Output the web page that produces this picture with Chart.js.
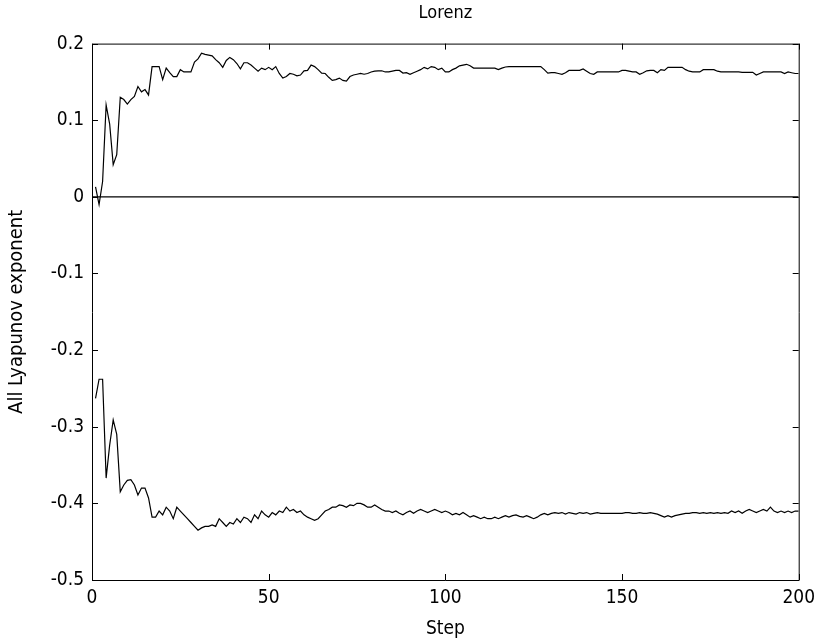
<!DOCTYPE html>
<html>
<head>
<meta charset="utf-8">
<script src="https://cdn.jsdelivr.net/npm/chart.js@4/dist/chart.umd.min.js"></script>
<style>
  html, body { margin:0; padding:0; background:#fff; }
  #wrap { width:822px; height:643px; }
</style>
</head>
<body>
<div id="wrap"><canvas id="chart" width="822" height="643"></canvas></div>
<script>
// step values 1..200
const upperExp = [
  0.013,-0.010,0.020,0.120,0.095,0.042,0.055,0.130,0.127,0.121,
  0.127,0.131,0.144,0.137,0.140,0.133,0.170,0.170,0.170,0.153,
  0.168,0.162,0.157,0.157,0.166,0.163,0.163,0.163,0.176,0.180,
  0.1875,0.186,0.185,0.184,0.179,0.175,0.169,0.178,0.182,0.179,
  0.174,0.167,0.175,0.175,0.172,0.168,0.164,0.168,0.166,0.169,
  0.166,0.170,0.161,0.155,0.157,0.161,0.160,0.158,0.159,0.1645,
  0.165,0.172,0.170,0.166,0.1615,0.161,0.156,0.152,0.153,0.155,
  0.152,0.151,0.157,0.159,0.160,0.161,0.160,0.161,0.163,0.164,
  0.1645,0.1645,0.163,0.163,0.164,0.165,0.165,0.1615,0.162,0.160,
  0.162,0.164,0.166,0.169,0.167,0.170,0.169,0.166,0.168,0.163,
  0.163,0.166,0.168,0.171,0.172,0.173,0.171,0.168,0.168,0.168,
  0.168,0.168,0.168,0.168,0.166,0.168,0.1695,0.170,0.170,0.170,
  0.170,0.170,0.170,0.170,0.170,0.170,0.170,0.166,0.1615,0.162,
  0.162,0.161,0.160,0.162,0.165,0.165,0.165,0.165,0.167,0.164,
  0.161,0.160,0.163,0.163,0.163,0.163,0.163,0.163,0.163,0.165,
  0.165,0.164,0.163,0.163,0.160,0.162,0.1645,0.165,0.165,0.162,
  0.166,0.165,0.169,0.169,0.169,0.169,0.169,0.166,0.164,0.163,
  0.163,0.163,0.166,0.166,0.166,0.166,0.164,0.163,0.163,0.163,
  0.163,0.163,0.163,0.1625,0.1625,0.1625,0.1625,0.159,0.161,0.163,
  0.163,0.163,0.163,0.163,0.163,0.161,0.163,0.162,0.161,0.161
];
const lowerExp = [
  -0.263,-0.238,-0.238,-0.367,-0.324,-0.291,-0.310,-0.385,-0.376,-0.370,
  -0.369,-0.376,-0.389,-0.380,-0.380,-0.393,-0.418,-0.418,-0.410,-0.415,
  -0.405,-0.410,-0.420,-0.405,-0.410,-0.415,-0.420,-0.425,-0.430,-0.435,
  -0.432,-0.430,-0.430,-0.428,-0.430,-0.420,-0.425,-0.430,-0.425,-0.427,
  -0.420,-0.425,-0.418,-0.420,-0.425,-0.415,-0.420,-0.410,-0.415,-0.418,
  -0.412,-0.415,-0.410,-0.412,-0.405,-0.410,-0.408,-0.412,-0.410,-0.415,
  -0.418,-0.420,-0.422,-0.420,-0.415,-0.410,-0.408,-0.405,-0.405,-0.402,
  -0.403,-0.405,-0.402,-0.403,-0.400,-0.400,-0.402,-0.405,-0.405,-0.402,
  -0.405,-0.408,-0.410,-0.410,-0.412,-0.410,-0.413,-0.415,-0.412,-0.410,
  -0.413,-0.410,-0.408,-0.410,-0.412,-0.410,-0.408,-0.410,-0.412,-0.410,
  -0.412,-0.415,-0.413,-0.415,-0.412,-0.415,-0.418,-0.416,-0.418,-0.420,
  -0.418,-0.420,-0.420,-0.418,-0.420,-0.418,-0.416,-0.418,-0.416,-0.415,
  -0.417,-0.418,-0.416,-0.418,-0.420,-0.418,-0.415,-0.413,-0.415,-0.413,
  -0.412,-0.413,-0.412,-0.414,-0.412,-0.413,-0.414,-0.412,-0.413,-0.412,
  -0.414,-0.413,-0.412,-0.413,-0.413,-0.413,-0.413,-0.413,-0.413,-0.413,
  -0.412,-0.412,-0.413,-0.413,-0.412,-0.413,-0.413,-0.412,-0.413,-0.414,
  -0.416,-0.418,-0.416,-0.418,-0.416,-0.415,-0.414,-0.413,-0.413,-0.412,
  -0.412,-0.413,-0.412,-0.413,-0.412,-0.413,-0.412,-0.413,-0.412,-0.413,
  -0.410,-0.412,-0.410,-0.413,-0.410,-0.408,-0.410,-0.412,-0.410,-0.408,
  -0.410,-0.405,-0.410,-0.412,-0.410,-0.412,-0.410,-0.412,-0.410,-0.410
];
const zeroX = [0, 200];
const zeroY = [0, 0];
const xTicks = [0, 50, 100, 150, 200];
const yTicks = [0.2, 0.1, 0, -0.1, -0.2, -0.3, -0.4, -0.5];

const FONT = "'Liberation Sans Narrow', 'DejaVu Sans Condensed', 'Liberation Sans', sans-serif";

const toPoints = arr => arr.map((v, i) => ({x: i + 1, y: v}));

// matlab style box with inward ticks
const boxPlugin = {
  id: 'box',
  afterDraw(chart){
    const {ctx, chartArea:a, scales:{x, y}} = chart;
    ctx.save();
    ctx.strokeStyle = '#000';
    ctx.lineWidth = 1;
    ctx.beginPath();
    ctx.rect(a.left + 0.5, a.top + 0.5, a.right - a.left, a.bottom - a.top);
    xTicks.forEach(t => {
      const px = Math.round(x.getPixelForValue(t)) + 0.5;
      ctx.moveTo(px, a.bottom); ctx.lineTo(px, a.bottom - 6);
      ctx.moveTo(px, a.top); ctx.lineTo(px, a.top + 6);
    });
    yTicks.forEach(t => {
      const py = Math.round(y.getPixelForValue(t)) + 0.5;
      ctx.moveTo(a.left, py); ctx.lineTo(a.left + 6, py);
      ctx.moveTo(a.right, py); ctx.lineTo(a.right - 6, py);
    });
    ctx.stroke();
    ctx.restore();
  }
};

new Chart(document.getElementById('chart'), {
  type: 'line',
  data: {
    datasets: [
      {data: toPoints(upperExp), borderColor:'#000', borderWidth:1.2},
      {data: toPoints(lowerExp), borderColor:'#000', borderWidth:1.2},
      {data: zeroX.map((v, i) => ({x: v, y: zeroY[i]})), borderColor:'#000', borderWidth:1.2}
    ]
  },
  options: {
    responsive: false,
    animation: false,
    layout: {padding: {right: 19}},
    elements: {point: {radius: 0}, line: {tension: 0}},
    plugins: {
      legend: {display: false},
      tooltip: {enabled: false},
      title: {
        display: true,
        text: 'Lorenz',
        fullSize: false,
        color: '#000',
        font: {family: FONT, size: 18, weight: 'normal'},
        padding: {top: 3, bottom: 19}
      }
    },
    scales: {
      x: {
        type: 'linear',
        min: 0, max: 200,
        afterFit(s){ s.height = 63; },
        afterBuildTicks(s){ s.ticks = xTicks.map(v => ({value: v})); },
        grid: {display: false, drawTicks: false},
        border: {display: false},
        ticks: {color:'#000', font:{family: FONT, size: 19}, padding: 7, maxRotation: 0},
        title: {display: true, text: 'Step', color:'#000', font:{family: FONT, size: 19}, padding:{top: 0, bottom: 3}}
      },
      y: {
        min: -0.5, max: 0.2,
        afterFit(s){ s.width = 92; },
        afterBuildTicks(s){ s.ticks = yTicks.map(v => ({value: v})); },
        grid: {display: false, drawTicks: false},
        border: {display: false},
        ticks: {color:'#000', font:{family: FONT, size: 19}, padding: 8,
          callback: v => String(Math.round(v * 10) / 10)},
        title: {display: true, text: 'All Lyapunov exponent', color:'#000', font:{family: FONT, size: 20}, padding:{top: 5, bottom: 0}}
      }
    }
  },
  plugins: [boxPlugin]
});
</script>
</body>
</html>
